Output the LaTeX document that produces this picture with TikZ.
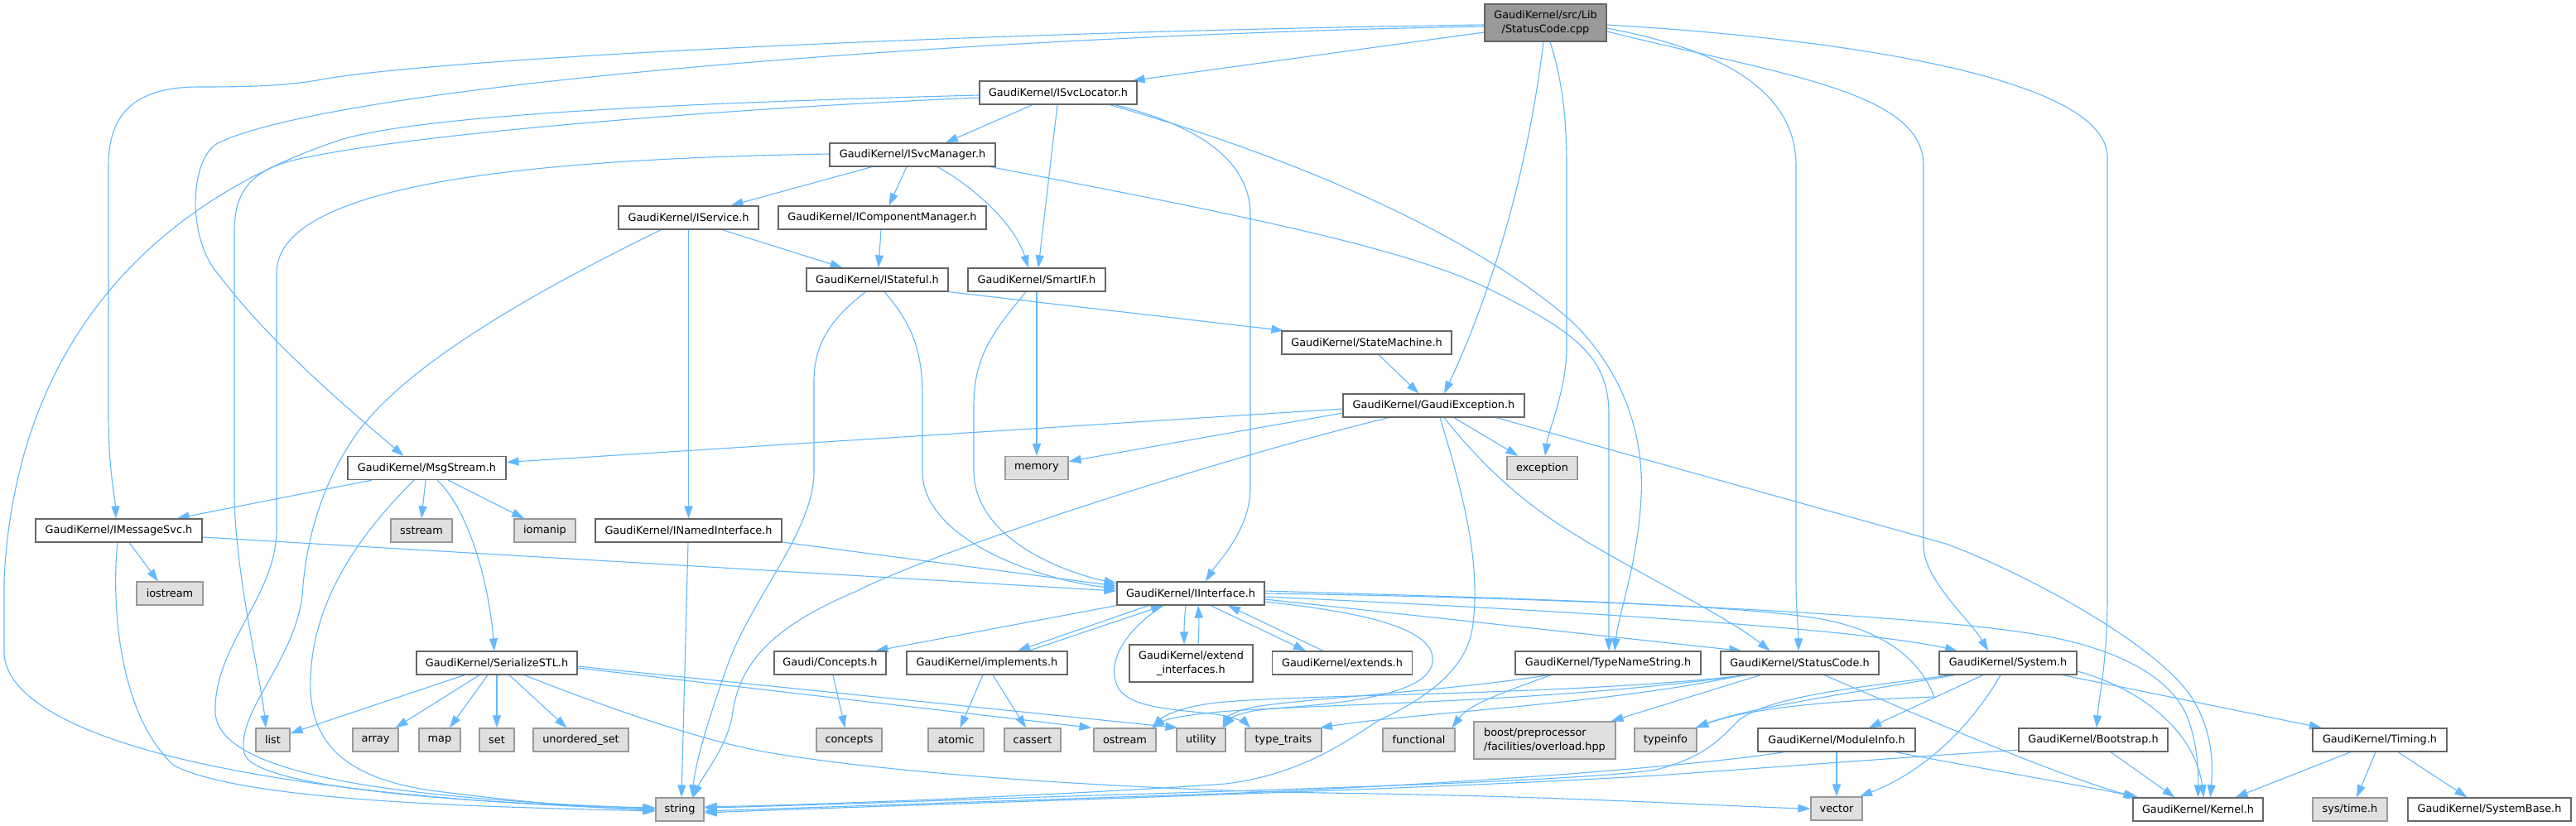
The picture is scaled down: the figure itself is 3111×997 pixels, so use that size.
\documentclass[tikz,border=0pt]{standalone}
\usepackage{fontspec}
\setmainfont{DejaVu Sans}
\usetikzlibrary{arrows.meta}
\definecolor{edgec}{HTML}{63B8FF}
\definecolor{bordc}{HTML}{666666}
\definecolor{extfill}{HTML}{E0E0E0}
\definecolor{extbord}{HTML}{999999}
\definecolor{rootfill}{HTML}{999999}
\pgfdeclarelayer{paper}
\pgfdeclarelayer{bg}
\pgfsetlayers{paper,bg,main}
\begin{document}
\begin{tikzpicture}[x=1pt,y=-1pt,
  font=\fontsize{12.85pt}{17pt}\selectfont,
  inbox/.style={draw=bordc, fill=white, line width=1.2pt, inner sep=0pt, minimum height=28pt, text=black, align=center},
  exbox/.style={inbox, draw=extbord, fill=extfill},
  rootbox/.style={inbox, draw=bordc, fill=rootfill, minimum height=45pt},
  dep/.style={draw=edgec, line width=1.1pt, line join=round, -{Triangle[length=15pt,width=10pt]}}]
\useasboundingbox (0,0) rectangle (3111,997);
\begin{pgfonlayer}{paper}
\fill[white] (0,0) rectangle (3111,997);
\end{pgfonlayer}
% nodes
\node[rootbox, minimum width=147pt] (root) at (1866.5,27.5) {GaudiKernel/src/Lib\\/StatusCode.cpp};
\node[inbox, minimum width=190pt] (ISvcLocator) at (1278,112) {GaudiKernel/ISvcLocator.h};
\node[inbox, minimum width=200pt] (ISvcManager) at (1102,187) {GaudiKernel/ISvcManager.h};
\node[inbox, minimum width=169pt] (IService) at (831.5,263) {GaudiKernel/IService.h};
\node[inbox, minimum width=251pt] (ICompMgr) at (1065.5,263) {GaudiKernel/IComponentManager.h};
\node[inbox, minimum width=171pt] (IStateful) at (1059.5,338) {GaudiKernel/IStateful.h};
\node[inbox, minimum width=166pt] (SmartIF) at (1252,338) {GaudiKernel/SmartIF.h};
\node[inbox, minimum width=205pt] (StateMachine) at (1650.5,414) {GaudiKernel/StateMachine.h};
\node[inbox, minimum width=219pt] (GaudiException) at (1731.5,490) {GaudiKernel/GaudiException.h};
\node[inbox, minimum width=191pt] (MsgStream) at (515.5,565.5) {GaudiKernel/MsgStream.h};
\node[exbox, minimum width=76pt] (memory) at (1252,565.5) {memory};
\node[exbox, minimum width=85pt] (exception) at (1862.5,565.5) {exception};
\node[inbox, minimum width=201pt] (IMessageSvc) at (143.5,641) {GaudiKernel/IMessageSvc.h};
\node[exbox, minimum width=74pt] (sstream) at (509,641) {sstream};
\node[exbox, minimum width=74pt] (iomanip) at (658,641) {iomanip};
\node[inbox, minimum width=225pt] (INamedInterface) at (831.5,641) {GaudiKernel/INamedInterface.h};
\node[exbox, minimum width=80pt] (iostream) at (205,717) {iostream};
\node[inbox, minimum width=178pt] (IInterface) at (1438,717) {GaudiKernel/IInterface.h};
\node[inbox, minimum width=194pt] (SerializeSTL) at (600,801) {GaudiKernel/SerializeSTL.h};
\node[inbox, minimum width=135pt] (Concepts) at (1002.5,801) {Gaudi/Concepts.h};
\node[inbox, minimum width=194pt] (implements) at (1192,801) {GaudiKernel/implements.h};
\node[inbox, minimum width=149pt, minimum height=45pt] (extendif) at (1438.5,801.5) {GaudiKernel/extend\\\_interfaces.h};
\node[inbox, minimum width=169pt] (extends) at (1621,801) {GaudiKernel/extends.h};
\node[inbox, minimum width=224pt] (TypeNameString) at (1942,801) {GaudiKernel/TypeNameString.h};
\node[inbox, minimum width=191pt] (StatusCode) at (2173.5,801) {GaudiKernel/StatusCode.h};
\node[inbox, minimum width=166pt] (System) at (2425,801) {GaudiKernel/System.h};
\node[exbox, minimum width=41pt] (list) at (329.5,894) {list};
\node[exbox, minimum width=55pt] (array) at (453.5,894) {array};
\node[exbox, minimum width=50pt] (map) at (531,894) {map};
\node[exbox, minimum width=42pt] (set) at (600,894) {set};
\node[exbox, minimum width=115pt] (uset) at (701.5,894) {unordered\_set};
\node[exbox, minimum width=79pt] (concepts) at (1025.5,894) {concepts};
\node[exbox, minimum width=67pt] (atomic) at (1154.5,894) {atomic};
\node[exbox, minimum width=68pt] (cassert) at (1247,894) {cassert};
\node[exbox, minimum width=75pt] (ostream) at (1358.5,894) {ostream};
\node[exbox, minimum width=59pt] (utility) at (1450.5,894) {utility};
\node[exbox, minimum width=92pt] (typetraits) at (1550,894) {type\_traits};
\node[exbox, minimum width=87pt] (functional) at (1713.5,894) {functional};
\node[exbox, minimum width=171pt, minimum height=45pt, align=left] (boost) at (1865.5,894.5) {boost/preprocessor\\/facilities/overload.hpp};
\node[exbox, minimum width=75pt] (typeinfo) at (2011.5,894) {typeinfo};
\node[inbox, minimum width=190pt] (ModuleInfo) at (2218,894) {GaudiKernel/ModuleInfo.h};
\node[inbox, minimum width=180pt] (Bootstrap) at (2528,894) {GaudiKernel/Bootstrap.h};
\node[inbox, minimum width=162pt] (Timing) at (2874,894) {GaudiKernel/Timing.h};
\node[exbox, minimum width=58pt] (string) at (821,978) {string};
\node[exbox, minimum width=62pt] (vector) at (2218,977) {vector};
\node[inbox, minimum width=157pt] (Kernel) at (2654.5,978) {GaudiKernel/Kernel.h};
\node[exbox, minimum width=90pt] (systime) at (2838,978) {sys/time.h};
\node[inbox, minimum width=197pt] (SystemBase) at (3006.5,978) {GaudiKernel/SystemBase.h};
\begin{pgfonlayer}{bg}
% root
\draw[dep] ([yshift=-11.5pt]root.west) -- ([xshift=-6pt]ISvcLocator.north east);
\draw[dep] ([yshift=-2.5pt]root.west) .. controls (1200,38) and (520,70) .. (383,97) .. controls (340,104) and (300,105) .. (240,105) .. controls (160,105) and (131,140) .. (131,200) -- (131,500) .. controls (131,570) and (139,600) .. ([xshift=-3.5pt]IMessageSvc.north);
\draw[dep] ([yshift=-4.5pt]root.west) .. controls (1200,42) and (420,100) .. (265,172) .. controls (228,189) and (225,290) .. (265,333) .. controls (330,420) and (440,510) .. ([xshift=-28pt]MsgStream.north);
\draw[dep] ([xshift=-2.5pt]root.south) .. controls (1840,250) and (1780,400) .. ([xshift=12.5pt]GaudiException.north);
\draw[dep] ([xshift=5.5pt]root.south) .. controls (1888,100) and (1892,150) .. (1892,200) -- (1892,420) .. controls (1892,470) and (1870,520) .. ([xshift=3.5pt]exception.north);
\draw[dep] ([yshift=-6.5pt]root.east) .. controls (2080,60) and (2169,110) .. (2169,200) -- (2169,700) .. controls (2169,740) and (2172,760) .. ([xshift=-1.5pt]StatusCode.north);
\draw[dep] ([yshift=-10.5pt]root.east) .. controls (2150,90) and (2323,110) .. (2323,200) -- (2323,660) .. controls (2323,700) and (2380,750) .. ([xshift=-24pt]System.north);
\draw[dep] ([yshift=-2.5pt]root.east) .. controls (2200,45) and (2545,90) .. (2545,190) -- (2545,720) .. controls (2545,800) and (2535,840) .. ([xshift=4pt]Bootstrap.north);
% ISvcLocator
\draw[dep] ([yshift=-3pt]ISvcLocator.west) .. controls (800,125) and (500,140) .. (408,170) .. controls (200,240) and (20,400) .. (5,700) -- (5,790) .. controls (10,880) and (250,960) .. (string.west);
\draw[dep] ([yshift=-6pt]ISvcLocator.west) .. controls (900,130) and (500,160) .. (357,193) .. controls (300,206) and (283,235) .. (283,280) -- (283,600) .. controls (285,700) and (315,820) .. ([xshift=-8.5pt]list.north);
\draw[dep] ([xshift=-31pt]ISvcLocator.south) -- ([xshift=40pt]ISvcManager.north);
\draw[dep] ([xshift=-1pt]ISvcLocator.south) -- ([xshift=2pt]SmartIF.north);
\draw[dep] ([xshift=68pt]ISvcLocator.south) .. controls (1440,150) and (1510,190) .. (1510,260) -- (1510,590) .. controls (1510,640) and (1470,680) .. ([xshift=18pt]IInterface.north);
\draw[dep] ([xshift=62pt]ISvcLocator.south) .. controls (1600,200) and (1800,300) .. (1900,390) .. controls (1970,460) and (1985,540) .. (1982,600) .. controls (1978,680) and (1955,740) .. ([xshift=8pt]TypeNameString.north);
% ISvcManager
\draw[dep] ([xshift=-49pt]ISvcManager.south) -- ([xshift=51pt]IService.north);
\draw[dep] ([xshift=-7pt]ISvcManager.south) -- ([xshift=8pt]ICompMgr.north);
\draw[dep] ([xshift=30pt]ISvcManager.south) .. controls (1175,225) and (1225,270) .. ([xshift=-10pt]SmartIF.north);
\draw[dep] ([xshift=94pt]ISvcManager.south) .. controls (1500,260) and (1700,300) .. (1800,350) .. controls (1900,400) and (1943,430) .. (1943,500) -- ([xshift=1pt]TypeNameString.north);
\draw[dep] ([yshift=1pt]ISvcManager.west) .. controls (650,192) and (334,220) .. (334,330) -- (334,640) .. controls (334,720) and (258,780) .. (260,860) .. controls (262,940) and (500,965) .. ([yshift=1pt]string.west);
% IService
\draw[dep] ([xshift=40.5pt]IService.south) -- ([xshift=-42pt]IStateful.north);
\draw[dep] (IService.south) -- (INamedInterface.north);
\draw[dep] ([xshift=-33pt]IService.south) .. controls (650,350) and (490,440) .. (430,525) .. controls (395,575) and (370,640) .. (365,720) .. controls (355,800) and (285,860) .. (295,910) .. controls (305,955) and (600,972) .. ([yshift=2pt]string.west);
\draw[dep] ([xshift=-1.5pt]ICompMgr.south) -- ([xshift=1.5pt]IStateful.north);
% IStateful
\draw[dep] (IStateful.south east) -- ([xshift=3pt]StateMachine.north west);
\draw[dep] ([xshift=-14pt]IStateful.south) .. controls (1010,380) and (983,410) .. (983,460) -- (983,570) .. controls (983,640) and (910,720) .. (880,800) .. controls (855,870) and (840,920) .. ([xshift=15pt]string.north);
\draw[dep] ([xshift=8.5pt]IStateful.south) .. controls (1100,390) and (1114,420) .. (1114,480) -- (1114,570) .. controls (1114,650) and (1250,700) .. ([yshift=6pt]IInterface.west);
% SmartIF
\draw[dep] ([xshift=-13pt]SmartIF.south) .. controls (1200,400) and (1176,430) .. (1176,490) -- (1176,570) .. controls (1178,650) and (1280,690) .. ([yshift=12pt]IInterface.west);
\draw[dep] (SmartIF.south) -- (memory.north);
\draw[dep] ([xshift=14.5pt]StateMachine.south) -- ([xshift=-18pt]GaudiException.north);
% GaudiException
\draw[dep] ([yshift=-9pt]GaudiException.west) -- ([yshift=8pt]memory.east);
\draw[dep] ([yshift=-4pt]GaudiException.west) -- ([yshift=7pt]MsgStream.east);
\draw[dep] ([xshift=-54.5pt]GaudiException.south) .. controls (1450,560) and (1120,670) .. (1035,714) .. controls (950,750) and (895,790) .. (885,860) .. controls (880,900) and (850,935) .. ([xshift=16pt]string.north);
\draw[dep] ([xshift=24.5pt]GaudiException.south) -- ([xshift=-29pt]exception.north);
\draw[dep] ([xshift=75.5pt]GaudiException.south) -- (2350,657) .. controls (2440,690) and (2600,775) .. (2645,840) .. controls (2675,885) and (2672,930) .. ([xshift=15pt]Kernel.north);
\draw[dep] ([xshift=12.5pt]GaudiException.south) .. controls (1780,550) and (1820,590) .. (1870,625) .. controls (1950,680) and (2080,740) .. ([xshift=-36pt]StatusCode.north);
\draw[dep] ([xshift=7.5pt]GaudiException.south) .. controls (1765,590) and (1790,680) .. (1778,760) .. controls (1770,810) and (1720,845) .. (1666,870) .. controls (1640,885) and (1580,935) .. (1480,947) .. controls (1300,960) and (1000,972) .. ([yshift=3pt]string.east);
% MsgStream
\draw[dep] ([xshift=-66.5pt]MsgStream.south) -- ([xshift=70pt]IMessageSvc.north);
\draw[dep] ([xshift=-1.5pt]MsgStream.south) -- (sstream.north);
\draw[dep] ([xshift=25.5pt]MsgStream.south) -- ([xshift=-25pt]iomanip.north);
\draw[dep] ([xshift=12.5pt]MsgStream.south) .. controls (565,615) and (590,700) .. ([xshift=-3pt]SerializeSTL.north);
\draw[dep] ([xshift=-15.5pt]MsgStream.south) .. controls (440,640) and (378,720) .. (375,820) .. controls (372,900) and (420,940) .. (520,955) .. controls (620,968) and (700,975) .. ([yshift=-1pt]string.west);
% IMessageSvc
\draw[dep] ([xshift=12.5pt]IMessageSvc.south) -- ([xshift=-14pt]iostream.north);
\draw[dep] ([xshift=-1.5pt]IMessageSvc.south) .. controls (135,720) and (140,860) .. (210,925) .. controls (300,970) and (600,975) .. ([yshift=-2pt]string.west);
\draw[dep] ([yshift=-8pt]IMessageSvc.east) -- ([yshift=3pt]IInterface.west);
% INamedInterface
\draw[dep] ([yshift=-14pt]INamedInterface.east) -- ([yshift=9pt]IInterface.west);
\draw[dep] ([xshift=-0.5pt]INamedInterface.south) -- ([xshift=2pt]string.north);
% IInterface
\draw[dep] (IInterface.south west) -- ([xshift=55pt]Concepts.north);
\draw[dep] ([xshift=-51pt]IInterface.south) -- ([xshift=37pt]implements.north);
\draw[dep] ([xshift=50pt]implements.north) -- ([xshift=-33pt]IInterface.south);
\draw[dep] ([xshift=-6pt]IInterface.south) .. controls (1430,750) and (1430,760) .. ([xshift=-8.5pt]extendif.north);
\draw[dep] ([xshift=8.5pt]extendif.north) .. controls (1448,760) and (1448,750) .. ([xshift=9pt]IInterface.south);
\draw[dep] ([xshift=24pt]IInterface.south) -- ([xshift=-44pt]extends.north);
\draw[dep] ([xshift=-23pt]extends.north) -- ([xshift=45pt]IInterface.south);
\draw[dep] ([xshift=-33pt]IInterface.south) .. controls (1360,760) and (1335,800) .. (1350,830) .. controls (1365,860) and (1440,857) .. (1480,865) .. controls (1495,869) and (1505,874) .. ([xshift=-40pt]typetraits.north);
\draw[dep] ([yshift=-7pt]IInterface.east) -- ([xshift=-70pt]StatusCode.north);
\draw[dep] ([yshift=-4pt]IInterface.east) .. controls (1900,738) and (2250,760) .. ([xshift=-61pt]System.north);
\draw[dep] (IInterface.east) .. controls (1900,722) and (2300,742) .. (2450,765) .. controls (2560,782) and (2625,820) .. (2643,870) .. controls (2655,905) and (2655,935) .. (Kernel.north);
\draw[dep] ([yshift=3pt]IInterface.east) .. controls (1800,722) and (2100,730) .. (2200,748) .. controls (2280,763) and (2320,800) .. (2336,842) .. controls (2250,845) and (2120,852) .. ([xshift=37pt]typeinfo.north);
\draw[dep] ([yshift=-10pt]IInterface.east) .. controls (1650,740) and (1735,760) .. (1730,800) .. controls (1725,840) and (1620,852) .. (1500,858) .. controls (1440,862) and (1410,868) .. ([xshift=33pt]ostream.north);
% SerializeSTL
\draw[dep] ([xshift=-39pt]SerializeSTL.south) -- ([yshift=8pt]list.east);
\draw[dep] ([xshift=-21pt]SerializeSTL.south) -- ([xshift=24pt]array.north);
\draw[dep] ([xshift=-11pt]SerializeSTL.south) -- ([xshift=12pt]map.north);
\draw[dep] (SerializeSTL.south) -- (set.north);
\draw[dep] ([xshift=15pt]SerializeSTL.south) -- ([xshift=-17pt]uset.north);
\draw[dep] ([xshift=33pt]SerializeSTL.south) .. controls (720,850) and (850,897) .. (933,910) .. controls (1100,938) and (1400,955) .. (1600,958) .. controls (1900,962) and (2100,975) .. (vector.west);
\draw[dep] ([yshift=-6pt]SerializeSTL.east) -- ([xshift=-40pt]ostream.north);
\draw[dep] ([yshift=-4pt]SerializeSTL.east) -- ([xshift=-28pt]utility.north);
% small ones
\draw[dep] ([xshift=3.5pt]Concepts.south) -- ([xshift=-5pt]concepts.north);
\draw[dep] ([xshift=-5pt]implements.south) -- ([xshift=5pt]atomic.north);
\draw[dep] ([xshift=7pt]implements.south) -- ([xshift=-8pt]cassert.north);
% TypeNameString
\draw[dep] ([xshift=-69pt]TypeNameString.south) .. controls (1820,835) and (1775,850) .. ([xshift=40pt]functional.north);
\draw[dep] ([xshift=-72pt]TypeNameString.south) .. controls (1750,835) and (1560,845) .. (1510,855) .. controls (1495,858) and (1482,866) .. ([xshift=26pt]utility.north);
% StatusCode
\draw[dep] ([xshift=-62.5pt]StatusCode.south) .. controls (1900,840) and (1600,838) .. (1480,848) .. controls (1430,852) and (1405,865) .. ([xshift=33pt]ostream.north);
\draw[dep] ([xshift=-64.5pt]StatusCode.south) .. controls (1900,845) and (1650,850) .. (1540,856) .. controls (1505,858) and (1488,866) .. ([xshift=27pt]utility.north);
\draw[dep] ([xshift=-68.5pt]StatusCode.south) .. controls (1950,850) and (1700,862) .. ([xshift=44pt]typetraits.north);
\draw[dep] ([xshift=-47.5pt]StatusCode.south) -- ([xshift=80pt]boost.north);
\draw[dep] ([xshift=29.5pt]StatusCode.south) .. controls (2330,870) and (2480,935) .. ([xshift=4pt]Kernel.north west);
% System
\draw[dep] ([xshift=-30pt]System.south) -- ([xshift=39pt]ModuleInfo.north);
\draw[dep] ([xshift=-9pt]System.south) .. controls (2385,870) and (2330,930) .. ([xshift=28pt]vector.north);
\draw[dep] ([xshift=-64pt]System.south) .. controls (2250,835) and (2110,855) .. ([xshift=36pt]typeinfo.north);
\draw[dep] ([xshift=-68pt]System.south) .. controls (2250,830) and (2140,840) .. (2100,870) .. controls (2080,890) and (2060,915) .. (2000,930) .. controls (1900,945) and (1500,955) .. (1200,965) .. controls (1000,972) and (900,975) .. ([yshift=2pt]string.east);
\draw[dep] ([xshift=66pt]System.south) -- ([xshift=-70pt]Timing.north);
\draw[dep] ([yshift=-10pt]System.east) .. controls (2580,830) and (2650,880) .. ([xshift=7pt]Kernel.north);
% ModuleInfo
\draw[dep] (ModuleInfo.south) -- (vector.north);
\draw[dep] ([xshift=-63pt]ModuleInfo.south) .. controls (2050,925) and (1800,945) .. (1500,958) .. controls (1200,968) and (1000,975) .. ([yshift=-2pt]string.east);
\draw[dep] ([xshift=71pt]ModuleInfo.south) .. controls (2400,930) and (2520,950) .. ([xshift=-72pt]Kernel.north);
% Bootstrap
\draw[dep] ([xshift=21pt]Bootstrap.south) -- ([xshift=-28pt]Kernel.north);
\draw[dep] ([yshift=-12pt]Bootstrap.west) .. controls (2300,915) and (2100,930) .. (2000,937) .. controls (1700,955) and (1100,972) .. ([yshift=-4pt]string.east);
% Timing
\draw[dep] ([xshift=-35pt]Timing.south) -- ([xshift=45pt]Kernel.north);
\draw[dep] ([xshift=-5pt]Timing.south) -- ([xshift=8pt]systime.north);
\draw[dep] ([xshift=22pt]Timing.south) -- ([xshift=-27pt]SystemBase.north);
\end{pgfonlayer}
\end{tikzpicture}
\end{document}
